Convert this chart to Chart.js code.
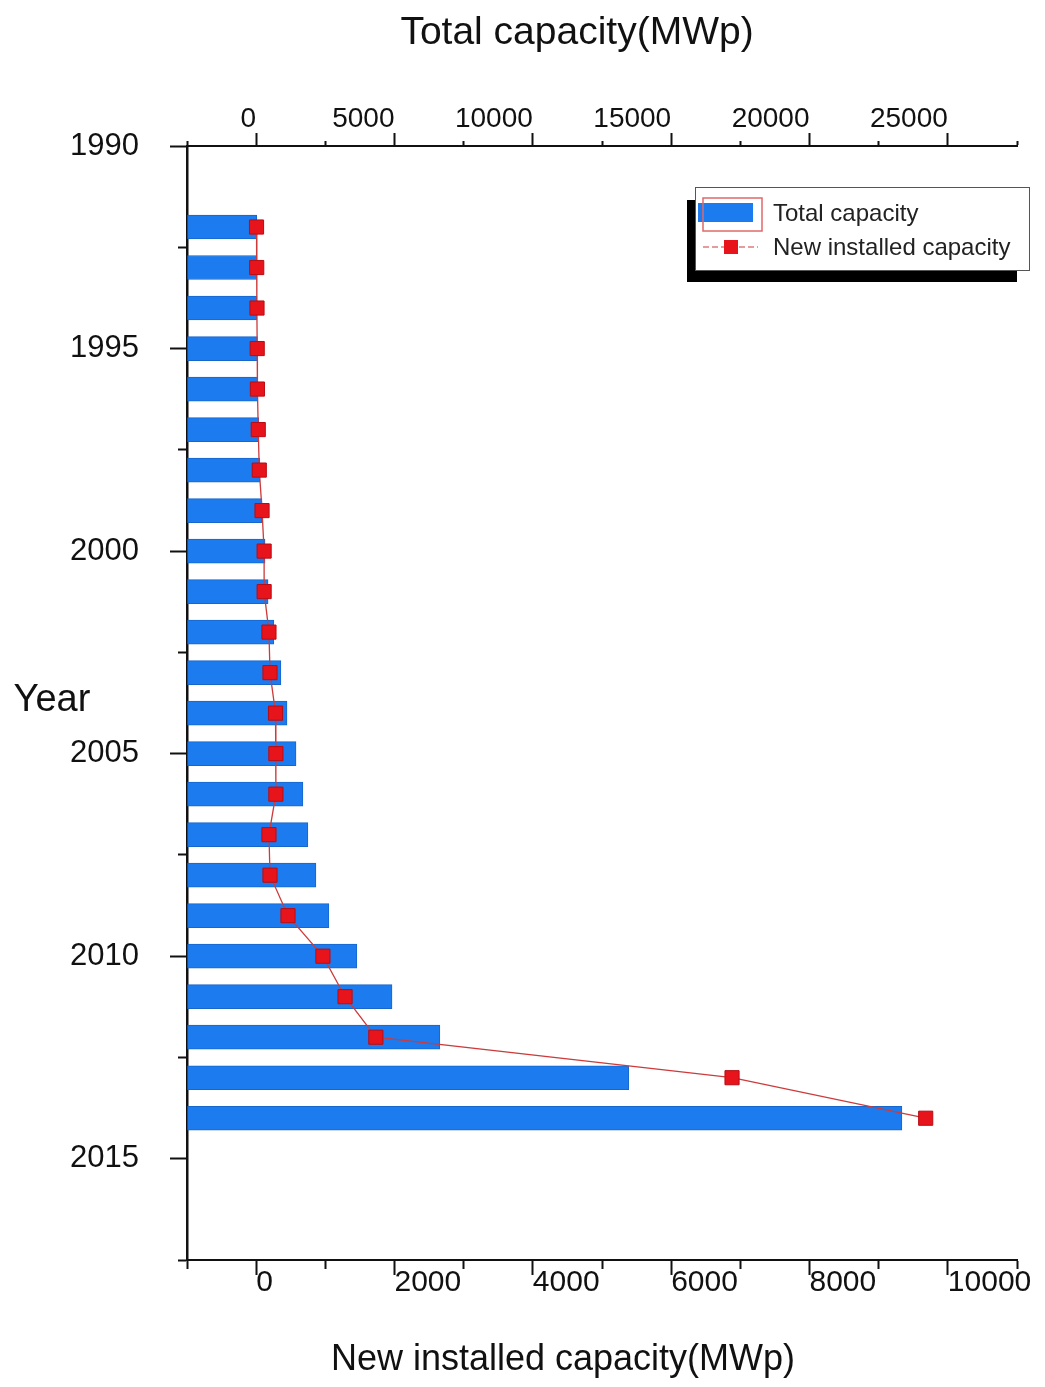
<!DOCTYPE html>
<html>
<head>
<meta charset="utf-8">
<title>Total and new installed PV capacity</title>
<script src="https://cdn.jsdelivr.net/npm/chart.js@4.4.1/dist/chart.umd.min.js"></script>
<style>
  html, body { margin: 0; padding: 0; background: #ffffff; }
  #wrap { position: relative; width: 1045px; height: 1387px; }
</style>
</head>
<body>
<div id="wrap"><canvas id="chart" width="1045" height="1387"></canvas></div>
<script>
// Years with data (one bar and one marker per year)
const years = [1992, 1993, 1994, 1995, 1996, 1997, 1998, 1999, 2000, 2001, 2002,
               2003, 2004, 2005, 2006, 2007, 2008, 2009, 2010, 2011, 2012, 2013, 2014];

// Cumulative installed capacity, MWp (top axis)
const totalCapacity = [20, 25, 30, 45, 60, 90, 135, 210, 320, 430, 640,
                       895, 1115, 1440, 1690, 1870, 2160, 2630, 3640, 4910, 6640, 13470, 23340];

// Capacity added during the year, MWp (bottom axis)
const newInstalled = [5, 8, 12, 15, 18, 30, 45, 85, 115, 115, 185,
                      200, 280, 285, 285, 185, 200, 460, 965, 1285, 1730, 6880, 9680];

// Labelled ticks on each axis
const yearTickLabels = [1990, 1995, 2000, 2005, 2010, 2015];
const totalTickLabels = [0, 5000, 10000, 15000, 20000, 25000];
const newTickLabels = [0, 2000, 4000, 6000, 8000, 10000];

const FONT = '"Liberation Sans", Arial, Helvetica, sans-serif';
const BAR_BLUE = '#1c7cef';
const MARK_RED = '#e8141c';
const LINE_RED = '#cc3b3b';
const INK = '#111111';

Chart.defaults.font.family = FONT;
Chart.defaults.color = INK;

// dash pattern that keeps only the inner part of a tick mark (short minor ticks)
function innerDash(full, part) { return [0, full - part, part, 200]; }

const decorations = {
  id: 'decorations',
  afterDraw(chart) {
    const ctx = chart.ctx;
    ctx.save();
    ctx.fillStyle = INK;
    ctx.textAlign = 'center';
    ctx.textBaseline = 'middle';

    ctx.font = '39px ' + FONT;
    ctx.fillText('Total capacity(MWp)', 577, 33);
    ctx.font = '36px ' + FONT;
    ctx.fillText('New installed capacity(MWp)', 563, 1360);
    ctx.font = '38px ' + FONT;
    ctx.fillText('Year', 52, 701);

    // legend box with offset black shadow
    ctx.fillStyle = '#000000';
    ctx.fillRect(687, 200, 330, 82);
    ctx.fillStyle = '#ffffff';
    ctx.fillRect(695, 187, 335, 83);
    ctx.strokeStyle = '#555555';
    ctx.lineWidth = 1;
    ctx.strokeRect(695.5, 187.5, 334, 83);

    // bar swatch
    ctx.fillStyle = BAR_BLUE;
    ctx.fillRect(698, 203, 55, 19);
    ctx.strokeStyle = '#e06868';
    ctx.lineWidth = 1.5;
    ctx.strokeRect(703, 198, 59, 33);

    // line + marker swatch
    ctx.strokeStyle = LINE_RED;
    ctx.lineWidth = 1.2;
    ctx.setLineDash([6, 3]);
    ctx.beginPath();
    ctx.moveTo(703, 247);
    ctx.lineTo(758, 247);
    ctx.stroke();
    ctx.setLineDash([]);
    ctx.fillStyle = MARK_RED;
    ctx.fillRect(724, 240, 14, 14);

    ctx.fillStyle = '#222222';
    ctx.textAlign = 'left';
    ctx.font = '24px ' + FONT;
    ctx.fillText('Total capacity', 773, 214);
    ctx.fillText('New installed capacity', 773, 248);
    ctx.restore();
  }
};

new Chart(document.getElementById('chart'), {
  type: 'bar',
  data: {
    datasets: [
      {
        type: 'line',
        label: 'New installed capacity',
        data: years.map((y, i) => ({ x: newInstalled[i], y: y })),
        xAxisID: 'xBottom',
        yAxisID: 'y',
        order: 0,
        borderColor: LINE_RED,
        borderWidth: 1.3,
        tension: 0,
        pointStyle: 'rect',
        pointRadius: 10,
        pointBackgroundColor: MARK_RED,
        pointBorderColor: '#b80c12',
        pointBorderWidth: 1
      },
      {
        type: 'bar',
        label: 'Total capacity',
        data: years.map((y, i) => ({ x: totalCapacity[i], y: y })),
        xAxisID: 'xTop',
        yAxisID: 'y',
        order: 1,
        base: -2500,
        barThickness: 24,
        backgroundColor: BAR_BLUE,
        borderColor: '#1766cc',
        borderWidth: 1,
        borderSkipped: false
      }
    ]
  },
  options: {
    indexAxis: 'y',
    responsive: false,
    animation: false,
    layout: { padding: { left: 0, top: 0, right: 28, bottom: 0 } },
    plugins: {
      legend: { display: false },
      tooltip: { enabled: false }
    },
    scales: {
      y: {
        type: 'linear',
        position: 'left',
        reverse: true,
        min: 1990,
        max: 2017.5,
        offset: false,
        afterFit(scale) { scale.width = 187; },
        border: { display: true, color: INK, width: 2.5 },
        grid: {
          offset: false,
          drawOnChartArea: false,
          drawTicks: true,
          tickLength: 17,
          tickWidth: 2,
          tickColor: INK,
          tickBorderDash: (c) => (c.tick && yearTickLabels.includes(c.tick.value)) ? [] : innerDash(17, 9)
        },
        ticks: {
          stepSize: 2.5,
          autoSkip: false,
          padding: 31,
          font: { size: 31 },
          color: INK,
          callback: (v) => yearTickLabels.includes(v) ? String(v) : ''
        }
      },
      xTop: {
        type: 'linear',
        position: 'top',
        min: -2500,
        max: 27500,
        afterFit(scale) { scale.height = 146; },
        border: { display: true, color: INK, width: 2 },
        grid: {
          drawOnChartArea: false,
          drawTicks: true,
          tickLength: 13,
          tickWidth: 2,
          tickColor: INK,
          tickBorderDash: (c) => (c.tick && totalTickLabels.includes(c.tick.value)) ? [] : innerDash(13, 5)
        },
        ticks: {
          stepSize: 2500,
          autoSkip: false,
          maxRotation: 0,
          align: 'end',
          padding: -3,
          font: { size: 28 },
          color: INK,
          callback: (v) => totalTickLabels.includes(v) ? String(v) : ''
        }
      },
      xBottom: {
        type: 'linear',
        position: 'bottom',
        min: -1000,
        max: 11000,
        afterFit(scale) { scale.height = 127; },
        border: { display: true, color: INK, width: 2 },
        grid: {
          drawOnChartArea: false,
          drawTicks: true,
          tickLength: 15,
          tickWidth: 2,
          tickColor: INK,
          tickBorderDash: (c) => (c.tick && newTickLabels.includes(c.tick.value)) ? [] : [8, 200]
        },
        ticks: {
          stepSize: 1000,
          autoSkip: false,
          maxRotation: 0,
          align: 'start',
          padding: -10,
          font: { size: 30 },
          color: INK,
          callback: (v) => newTickLabels.includes(v) ? String(v) : ''
        }
      }
    }
  },
  plugins: [decorations]
});
</script>
</body>
</html>
